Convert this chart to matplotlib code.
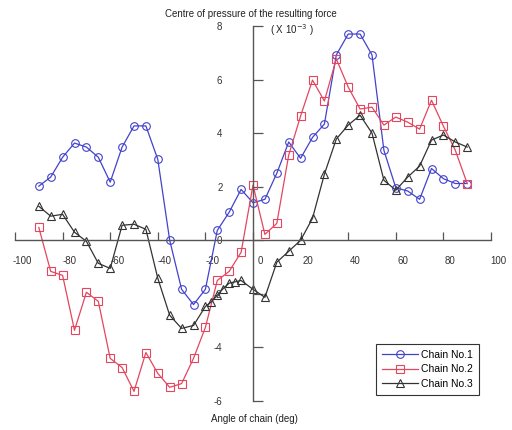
from matplotlib import pyplot as plt
import matplotlib.transforms as mtransforms

# angle of chain (deg)
angles = [-90, -85, -80, -75, -70, -65, -60, -55, -50, -45, -40, -35, -30,
          -25, -20, -15, -10, -5, 0, 5, 10, 15, 20, 25, 30, 35, 40, 45, 50,
          55, 60, 65, 70, 75, 80, 85, 90]

chain1 = [2.02, 2.36, 3.1, 3.63, 3.48, 3.1, 2.17, 3.48, 4.27, 4.27, 3.02,
          0.0, -1.83, -2.4, -1.83, 0.37, 1.05, 1.9, 1.4, 1.53, 2.5, 3.67,
          3.06, 3.84, 4.34, 6.92, 7.7, 7.7, 6.92, 3.36, 1.96, 1.84, 1.53,
          2.68, 2.3, 2.12, 2.12]

chain2 = [0.48, -1.16, -1.31, -3.36, -1.94, -2.28, -4.41, -4.75, -5.64,
          -4.19, -4.97, -5.49, -5.35, -4.41, -3.25, -1.5, -1.16, -0.45, 2.06,
          0.22, 0.63, 3.18, 4.64, 5.98, 5.2, 6.77, 5.72, 4.9, 4.97, 4.3, 4.6,
          4.41, 4.15, 5.23, 4.26, 3.36, 2.12]

angles3 = [-90, -85, -80, -75, -70, -65, -60, -55, -50, -45, -40, -35, -30,
           -25, -20, -17.5, -15, -12.5, -10, -7.5, -5, 0, 5, 10, 15, 20, 25,
           30, 35, 40, 45, 50, 55, 60, 65, 70, 75, 80, 85, 90]

chain3 = [1.27, 0.9, 0.97, 0.3, -0.04, -0.86, -1.05, 0.56, 0.6, 0.41, -1.42,
          -2.8, -3.29, -3.18, -2.47, -2.3, -2.05, -1.8, -1.6, -1.55, -1.5,
          -1.83, -2.13, -0.82, -0.41, 0.0, 0.82, 2.47, 3.78, 4.3, 4.67, 4.0,
          2.24, 1.87, 2.36, 2.77, 3.74, 3.93, 3.67, 3.48]

x_ticks = [-100, -80, -60, -40, -20, 0, 20, 40, 60, 80, 100]
y_ticks = [-6, -4, -2, 0, 2, 4, 6, 8]

plt.rcParams['font.family'] = ['Liberation Sans', 'DejaVu Sans']
plt.rcParams['font.size'] = 7

fig = plt.figure(figsize=(5.12, 4.30), dpi=100)
ax = fig.add_axes([15 / 512, 1 - 401 / 430, 476 / 512, 375 / 430])

mk = dict(markersize=5.5, markerfacecolor='none', markeredgewidth=0.8, linewidth=0.9)
ax.plot(angles, chain1, color='#4242cc', marker='o', label='Chain No.1', **mk)
ax.plot(angles, chain2, color='#e4465f', marker='s', label='Chain No.2', **mk)
ax.plot(angles3, chain3, color='#333333', marker='^', label='Chain No.3', **mk)

ax.set_xlim(-100, 100)
ax.set_ylim(-6, 8)

for side in ['top', 'right']:
    ax.spines[side].set_visible(False)
ax.spines['left'].set_position(('data', 0))
ax.spines['bottom'].set_position(('data', 0))
for side in ['left', 'bottom']:
    ax.spines[side].set_color('#555555')
    ax.spines[side].set_linewidth(1.0)

ax.set_xticks(x_ticks)
ax.set_yticks(y_ticks)
ax.set_xticklabels([str(t) for t in x_ticks])
ax.set_yticklabels([str(t) for t in y_ticks])
ax.tick_params(axis='x', direction='in', length=6, width=0.9, color='#555555',
               pad=11, labelcolor='#333333')
ax.tick_params(axis='y', direction='in', length=7.5, width=0.9, color='#555555',
               pad=22, labelcolor='#333333')

offset = mtransforms.ScaledTranslation(5 / 72, 0, fig.dpi_scale_trans)
for lab in ax.get_xticklabels():
    lab.set_transform(lab.get_transform() + offset)

fig.text(251 / 512, 1 - 14 / 430, 'Centre of pressure of the resulting force',
         ha='center', va='center', color='#222222')
fig.text(292 / 512, 1 - 30 / 430, r'( X 10$^{-3}$ )', ha='center', va='center',
         color='#222222')
fig.text(254 / 512, 1 - 419 / 430, 'Angle of chain (deg)', ha='center',
         va='center', color='#222222')

leg = ax.legend(loc='lower right', bbox_to_anchor=(479 / 512, 1 - 395 / 430),
                bbox_transform=fig.transFigure, borderaxespad=0, fancybox=False,
                framealpha=1, edgecolor='#333333', handlelength=3.4,
                handletextpad=0.3, labelspacing=0.42, borderpad=0.6,
                prop={'size': 7.5})
leg.get_frame().set_linewidth(0.8)

fig.savefig('out.png', dpi=100)
